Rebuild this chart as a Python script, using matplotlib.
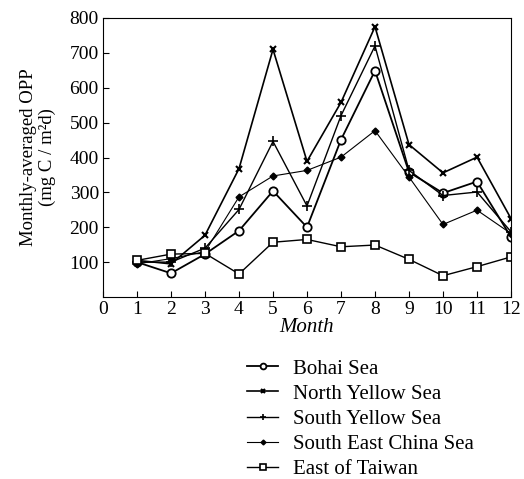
import numpy as np
import matplotlib.pyplot as plt

plt.rcParams['font.family'] = ['Liberation Serif', 'DejaVu Serif']

months = np.arange(1, 13)
bohai = [100, 68, 123, 190, 304, 200, 451, 649, 358, 298, 331, 172]
north_yellow = [105, 95, 177, 368, 710, 389, 558, 775, 437, 356, 401, 225]
south_yellow = [100, 100, 140, 251, 446, 261, 520, 720, 363, 291, 301, 187]
se_china = [95, 110, 130, 287, 347, 363, 401, 477, 344, 208, 249, 182]
east_taiwan = [105, 123, 125, 66, 157, 165, 144, 149, 108, 61, 87, 115]

W, H = 524, 479
fig = plt.figure(figsize=(W / 100, H / 100), dpi=100)
ax = fig.add_axes([103 / W, 1 - 297 / H, (511 - 103) / W, (297 - 18) / H])

ax.plot(months, bohai, color='black', lw=1.3, marker='o', ms=6, mfc='white', mew=1.3, label='Bohai Sea')
ax.plot(months, north_yellow, color='black', lw=1.2, marker='x', ms=4, mew=1.5, label='North Yellow Sea')
ax.plot(months, south_yellow, color='black', lw=1.0, marker='+', ms=7, mew=1.2, label='South Yellow Sea')
ax.plot(months, se_china, color='black', lw=0.8, marker='D', ms=3.5, label='South East China Sea')
ax.plot(months, east_taiwan, color='black', lw=1.0, marker='s', ms=6, mfc='white', mew=1.2, label='East of Taiwan')

ax.set_xlim(0, 12)
ax.set_ylim(0, 800)
ax.set_xticks(range(0, 13))
ax.set_yticks(range(100, 801, 100))
ax.tick_params(direction='in', labelsize=14, length=4, pad=3)
ax.set_xlabel('Month', fontsize=15, style='italic', labelpad=0)
ax.set_ylabel('Monthly-averaged OPP\n(mg C / m²d)', fontsize=13.5, linespacing=1.12, labelpad=10)

ax.legend(loc='upper left', bbox_to_anchor=(247 / W, 1 - 359 / H), bbox_transform=fig.transFigure,
          frameon=False, fontsize=15, borderpad=0, borderaxespad=0,
          handlelength=1.5, handletextpad=0.7, labelspacing=0.27, markerscale=0.7)

plt.savefig('out.png', dpi=100)
plt.close()
